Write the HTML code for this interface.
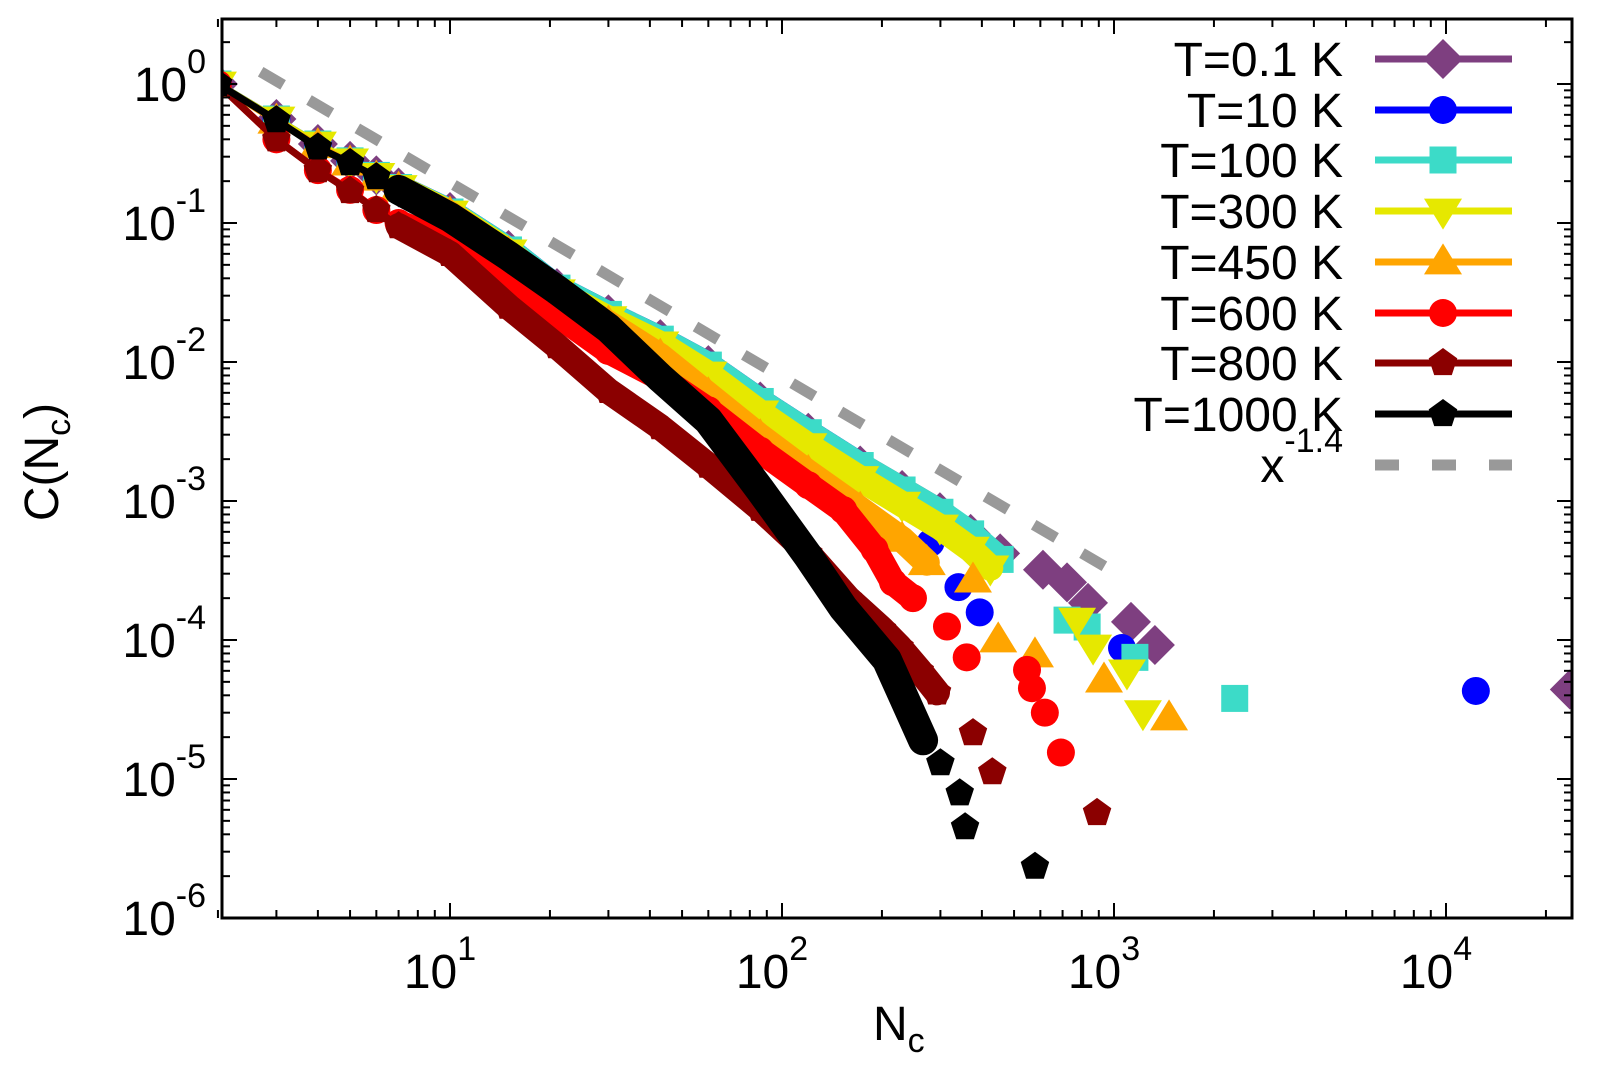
<!DOCTYPE html>
<html><head><meta charset="utf-8"><style>
html,body{margin:0;padding:0;background:#fff;}
svg{display:block;font-family:"Liberation Sans",sans-serif;}
</style></head><body>
<svg id="chart" width="1602" height="1087" viewBox="0 0 1602 1087" xmlns="http://www.w3.org/2000/svg">
<rect x="0" y="0" width="1602" height="1087" fill="#fff"/>
<g id="series-layer"></g>
<g id="axes-layer"></g>
<g id="legend-layer"></g>
</svg>
<script>
// ---- data ----
const seriesNames = ["T=0.1 K","T=10 K","T=100 K","T=300 K","T=450 K","T=600 K","T=800 K","T=1000 K"];
const seriesColors = ["#7e3f80","#0000ff","#3cdbc8","#e6e800","#ffa500","#ff0000","#8b0000","#000000"];
const seriesShapes = ["diamond","circle","square","tridown","triup","circle","pentagon","pentagon"];
const nPurple = [2,3,4,5,6,7,10,15,21,30,43,60,86,120,172,230,299,370,454,611,722,835,1125,1328,23600];
const cPurple = [1,0.56,0.37,0.28,0.22,0.18,0.12,0.064,0.034,0.022,0.0146,0.0095,0.0052,0.0031,0.0018,0.0012,0.00083,0.00058,0.00042,0.00032,0.00026,0.000185,0.000135,0.000092,0.000044];
const nBlue = [2,3,4,5,6,7,10,15,21,30,43,60,86,120,172,230,280,340,394,1057,12300];
const cBlue = [1,0.56,0.37,0.28,0.22,0.18,0.12,0.064,0.034,0.022,0.0146,0.0095,0.0052,0.0031,0.0018,0.0011,0.0005,0.00024,0.000158,0.0000875,0.000043];
const nCyan = [2,3,4,5,6,7,10,15,21,30,43,60,86,120,172,230,299,370,454,722,830,1156,2310];
const cCyan = [1,0.56,0.37,0.28,0.22,0.18,0.12,0.064,0.034,0.022,0.0146,0.0095,0.0052,0.0031,0.0018,0.0012,0.00083,0.00058,0.00038,0.000139,0.000124,0.000075,0.000038];
const nYellow = [2,3,4,5,6,7,10,15,21,30,43,60,86,120,172,230,299,370,424,774,865,1094,1222];
const cYellow = [1,0.56,0.37,0.28,0.22,0.18,0.118,0.062,0.032,0.0205,0.0135,0.0082,0.0043,0.0025,0.00145,0.00095,0.00065,0.00045,0.00033,0.000139,0.000089,0.000059,0.00003];
const nOrange = [2,3,4,5,6,7,10,15,21,30,43,60,86,120,172,230,273,376,448,578,933,1465];
const cOrange = [1,0.54,0.36,0.27,0.21,0.175,0.116,0.06,0.031,0.019,0.011,0.0058,0.0029,0.0016,0.00087,0.00053,0.00036,0.00027,0.0001,0.000078,0.0000515,0.0000275];
const nRed = [2,3,4,5,6,7,10,15,21,30,43,60,86,120,153,190,216,248,314,360,547,566,619,692];
const cRed = [1,0.40,0.24,0.173,0.124,0.1,0.072,0.038,0.022,0.012,0.0077,0.0045,0.0023,0.0013,0.00086,0.00045,0.00026,0.0002,0.000125,0.000075,0.000061,0.000045,0.00003,0.0000155];
const nDarkred = [2,3,4,5,6,7,10,15,21,30,43,60,86,120,158,200,226,260,293,376,430,889];
const cDarkred = [1,0.40,0.24,0.17,0.124,0.095,0.06,0.025,0.013,0.0062,0.0034,0.0018,0.00088,0.00042,0.0002,0.00012,0.000089,0.00006,0.000042,0.0000214,0.0000112,0.0000057];
const nBlack = [2,3,4,5,6,7,10,15,21,30,43,60,86,120,153,207,266,300,343,356,578];
const cBlack = [1,0.55,0.35,0.27,0.214,0.173,0.11,0.058,0.033,0.0175,0.0077,0.0038,0.0012,0.0004,0.00017,0.000072,0.000019,0.000013,0.0000079,0.0000045,0.00000234];
const seriesN = [nPurple,nBlue,nCyan,nYellow,nOrange,nRed,nDarkred,nBlack];
const seriesC = [cPurple,cBlue,cCyan,cYellow,cOrange,cRed,cDarkred,cBlack];
const fitAmp = [4.9];
const fitExp = [-1.4];
const fitRange = [2.69, 977];
const xTickExps = [1,2,3,4];
const yTickExps = [0,-1,-2,-3,-4,-5,-6];

// ---- axes ----
const L=222, R=1572, T=19, B=918;
const bandEnd=[300,230,454,424,273,248,293,266];
function X(n){return 450 + 332*(Math.log10(n)-1);}
function Y(c){return 84 - 139*Math.log10(c);}
const NS="http://www.w3.org/2000/svg";
function mk(tag,attrs,parent){const e=document.createElementNS(NS,tag);for(const k in attrs)e.setAttribute(k,attrs[k]);parent.appendChild(e);return e;}
const sl=document.getElementById('series-layer'), al=document.getElementById('axes-layer'), ll=document.getElementById('legend-layer');

function marker(shape,x,y,color,parent,s){
  s=s||1; let e;
  if(shape==="diamond"){const h=20*s;e=mk('polygon',{points:`${x},${y-h} ${x+h},${y} ${x},${y+h} ${x-h},${y}`,fill:color},parent);}
  else if(shape==="circle"){e=mk('circle',{cx:x,cy:y,r:14*s,fill:color},parent);}
  else if(shape==="square"){const h=13.5*s;e=mk('rect',{x:x-h,y:y-h,width:2*h,height:2*h,fill:color},parent);}
  else if(shape==="triup"){const w=19*s,h=31*s;e=mk('polygon',{points:`${x},${y-h*0.6} ${x+w},${y+h*0.4} ${x-w},${y+h*0.4}`,fill:color},parent);}
  else if(shape==="tridown"){const w=19*s,h=31*s;e=mk('polygon',{points:`${x},${y+h*0.6} ${x+w},${y-h*0.4} ${x-w},${y-h*0.4}`,fill:color},parent);}
  else {const r=15*s;let p=[];for(let i=0;i<5;i++){const a=-Math.PI/2+i*2*Math.PI/5;p.push((x+r*Math.cos(a)).toFixed(1)+','+(y+r*Math.sin(a)).toFixed(1));}e=mk('polygon',{points:p.join(' '),fill:color},parent);}
  return e;
}

const defs=mk('defs',{},sl);
const cp=mk('clipPath',{id:'plotclip'},defs);
mk('rect',{x:L,y:T,width:R-L,height:B-T},cp);
const plotG=mk('g',{'clip-path':'url(#plotclip)'},sl);

for(let s=0;s<seriesNames.length;s++){
  const g=mk('g',{},plotG);
  
  
  const ns=seriesN[s], cs=seriesC[s];
  let pts=[];
  for(let i=0;i<ns.length;i++){ if(ns[i]>=7 && ns[i]<=bandEnd[s]) pts.push(X(ns[i]).toFixed(1)+','+Y(cs[i]).toFixed(1)); }
  const band=mk('polyline',{points:pts.join(' '),fill:'none',stroke:seriesColors[s],'stroke-width':s===7?30:26,'stroke-linejoin':'round','stroke-linecap':'round'},g);
  
  
  let lpts=[];
  for(let i=0;i<ns.length;i++){ if(ns[i]<=10) lpts.push(X(ns[i]).toFixed(1)+','+Y(cs[i]).toFixed(1)); }
  mk('polyline',{points:lpts.join(' '),fill:'none',stroke:seriesColors[s],'stroke-width':7},g);
  for(let i=0;i<ns.length;i++){
    const m=marker(seriesShapes[s],X(ns[i]),Y(cs[i]),seriesColors[s],g);
    
    
  }
}
{
  const x1=X(fitRange[0]),y1=Y(fitAmp[0]*Math.pow(fitRange[0],fitExp[0]));
  const x2=X(fitRange[1]),y2=Y(fitAmp[0]*Math.pow(fitRange[1],fitExp[0]));
  const fl=mk('line',{x1:x1,y1:y1,x2:x2,y2:y2,stroke:'#999','stroke-width':11,'stroke-dasharray':'26 30'},plotG);
  
  
}

const frame=mk('rect',{x:L,y:T,width:R-L,height:B-T,fill:'none',stroke:'#000','stroke-width':3},al);


function tick(x1,y1,x2,y2){mk('line',{x1:x1,y1:y1,x2:x2,y2:y2,stroke:'#000','stroke-width':2},al);}
for(let d=0;d<=4;d++){
  for(let k=1;k<10;k++){
    const n=k*Math.pow(10,d); if(n<2||n>24000) continue;
    const x=X(n), len=k===1?15:8;
    tick(x,B,x,B-len); tick(x,T,x,T+len);
  }
}
for(let d=-6;d<=0;d++){
  for(let k=1;k<10;k++){
    const c=k*Math.pow(10,d); if(c>2.6) continue;
    const y=Y(c); if(y<T) continue; const len=k===1?15:8;
    tick(L,y,L+len,y); tick(R,y,R-len,y);
  }
}
xTickExps.forEach(e=>{
  const t=mk('text',{x:X(Math.pow(10,e))-10,y:988,'font-size':48,'text-anchor':'middle'},al);
  
  
  t.textContent='10';
  const sp=mk('tspan',{dy:-28,'font-size':34},t); sp.textContent=String(e);
});
yTickExps.forEach(e=>{
  const y=Y(Math.pow(10,e));
  const t=mk('text',{x:206,y:y+17,'font-size':48,'text-anchor':'end'},al);
  
  
  t.appendChild(document.createTextNode('10'));
  const sp=mk('tspan',{dy:-28,'font-size':34},t); sp.textContent=String(e);
});
{
  const xt=mk('text',{x:873,y:1040,'font-size':48},al);
  
  
  xt.appendChild(document.createTextNode('N'));
  const s1=mk('tspan',{dy:12,'font-size':34},xt); s1.textContent='c';
  const yt=mk('text',{x:0,y:0,'font-size':48,'text-anchor':'middle',transform:'translate(58,462) rotate(-90)'},al);
  
  
  yt.appendChild(document.createTextNode('C(N'));
  const s2=mk('tspan',{dy:12,'font-size':34},yt); s2.textContent='c';
  const s3=mk('tspan',{dy:-12},yt); s3.textContent=')';
}
const legY=[59,110,160,211,262,313,363,414];
for(let s=0;s<seriesNames.length;s++){
  const g=mk('g',{},ll);
  
  
  const t=mk('text',{x:1343,y:legY[s]+17,'font-size':48,'text-anchor':'end'},g);
  t.textContent=seriesNames[s];
  mk('line',{x1:1375,y1:legY[s],x2:1512,y2:legY[s],stroke:seriesColors[s],'stroke-width':7},g);
  marker(seriesShapes[s],1443,legY[s],seriesColors[s],g);
}
{
  const g=mk('g',{},ll);
  
  
  const t=mk('text',{x:1343,y:482,'font-size':48,'text-anchor':'end'},g);
  t.appendChild(document.createTextNode('x'));
  const sp=mk('tspan',{dy:-30,'font-size':34},t); sp.textContent='-1.4';
  mk('line',{x1:1375,y1:465,x2:1512,y2:465,stroke:'#999','stroke-width':11,'stroke-dasharray':'24 33'},g);
}
</script>
</body></html>
